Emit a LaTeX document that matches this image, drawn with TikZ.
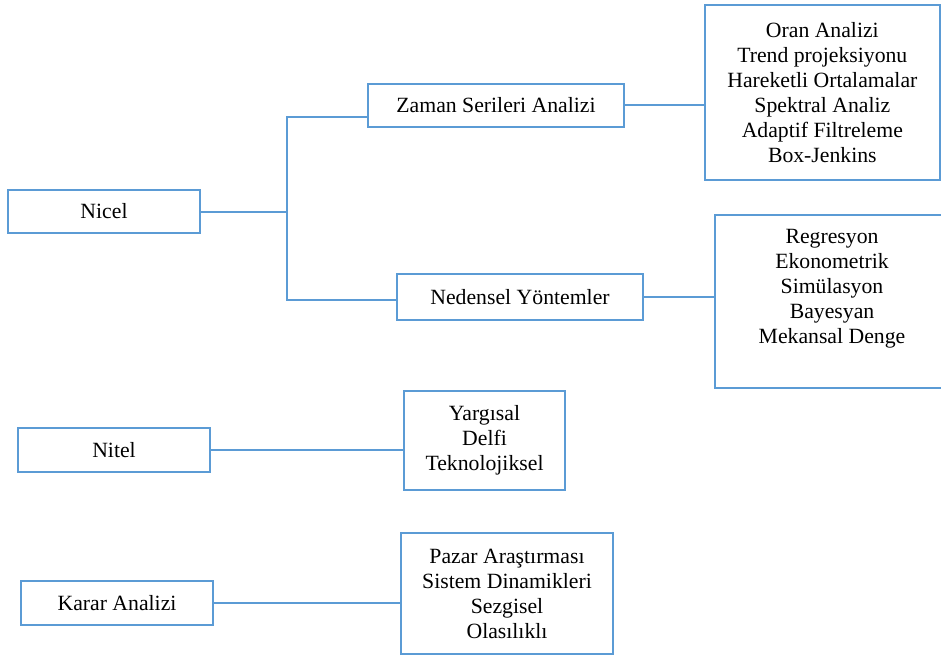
\documentclass[tikz,border=0pt]{standalone}
\usepackage{fontspec}
\setmainfont{Liberation Serif}
\usepackage{xcolor}
\usetikzlibrary{positioning}
\definecolor{frame}{HTML}{5B9BD5}
\tikzset{
  kind/.style={draw=frame, line width=1.5pt, fill=white, inner sep=0pt,
               minimum width=144pt, minimum height=32.5pt,
               font=\fontsize{16.3}{18.75}\selectfont, align=center},
  techs/.style={kind, minimum width=176pt, minimum height=131pt},
  link/.style={draw=frame, line width=1.5pt}
}
\begin{document}
\begin{tikzpicture}[x=0.75pt, y=-0.75pt]
    \useasboundingbox (0,0) rectangle (941,656);

    %% Nicel
    \node[kind] (nicel) at (104,211.5) {Nicel};
    \node[kind, minimum width=192pt] (zaman) at (496,105.5) {Zaman Serileri Analizi};
    \node[kind, minimum width=184.5pt, minimum height=34.5pt] (neden) at (520,297) {Nedensel Yöntemler};
    \node[techs, anchor=west, right=59.25pt of zaman, yshift=9.75pt] (oran)
         {Oran Analizi\\Trend projeksiyonu\\Hareketli Ortalamalar\\Spektral Analiz\\Adaptif Filtreleme\\Box-Jenkins};
    \node[techs, minimum width=175.5pt, minimum height=129.75pt,
          right=52.5pt of neden, yshift=-3.4pt] (regres) {};
    \node[font=\fontsize{16.3}{18.75}\selectfont, align=center, inner sep=0pt]
         (regresTxt) at ([yshift=9.4pt]regres.center)
         {Regresyon\\Ekonometrik\\Simülasyon\\Bayesyan\\Mekansal Denge};
    \coordinate (fork) at (287,211.5);

    %% Nitel
    \node[kind, minimum height=33pt] (nitel) at (114,450) {Nitel};
    \node[kind, minimum width=120.75pt, minimum height=74.25pt,
          right=144pt of nitel, yshift=7.1pt] (yargi) {Yargısal\\Delfi\\Teknolojiksel};

    %% Karar Analizi
    \node[kind, minimum height=33pt] (karar) at (117,603) {Karar Analizi};
    \node[kind, minimum width=159pt, minimum height=90.75pt,
          right=139.5pt of karar, yshift=7.1pt] (pazar)
         {Pazar Araştırması\\Sistem Dinamikleri\\Sezgisel\\Olasılıklı};

    \draw[link] (nicel.east) -- (fork);
    \draw[link] ([yshift=-8.6pt]zaman.west) -| (fork) |- ([yshift=-2.25pt]neden.west);
    \draw[link] (zaman.east) -- (oran.west |- zaman.east);
    \draw[link] (neden.east) -- (regres.west |- neden.east);
    \draw[link] (nitel.east) -- (yargi.west |- nitel.east);
    \draw[link] (karar.east) -- (pazar.west |- karar.east);
\end{tikzpicture}
\end{document}
